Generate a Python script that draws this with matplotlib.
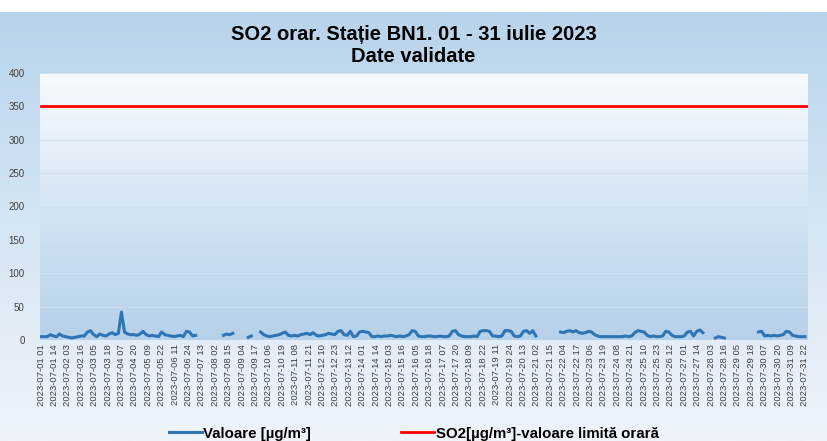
import numpy as np
import matplotlib
matplotlib.use('Agg')
import matplotlib.pyplot as plt
from matplotlib.colors import LinearSegmentedColormap

plt.rcParams['font.family'] = ['Liberation Sans', 'DejaVu Sans']

TITLE = 'SO2 orar. Stație BN1. 01 - 31 iulie 2023\nDate validate'
SERIES_LABEL = 'Valoare [µg/m³]'
LIMIT_LABEL = 'SO2[µg/m³]-valoare limită orară'
LIMIT = 350

# hourly categories: day 1..31, hour 01..24
DAYS = list(range(1, 32))
HOURS = list(range(1, 25))
CATEGORIES = [f'2023-07-{d:02d} {h:02d}' for d in DAYS for h in HOURS]
LABEL_STEP = 13

# values, every 3 hours (hours 01, 04, ... 22)
SAMPLE_HOURS = [1, 4, 7, 10, 13, 16, 19, 22]
nan = np.nan
SO2_BY_DAY = [
    [5, 5, 5, 8, 6, 5, 9, 6],
    [5, 4, 3, 4, 5, 6, 6, 12],
    [14, 8, 5, 9, 7, 6, 9, 11],
    [8, 10, 42, 12, 9, 8, 8, 7],
    [9, 13, 8, 6, 7, 6, 5, 12],
    [8, 7, 6, 5, 6, 7, 5, 13],
    [12, 6, 7, nan, nan, nan, nan, nan],
    [5, nan, nan, 7, 9, 8, 10, nan],
    [nan, nan, nan, 4, 6, nan, nan, 12],
    [8, 6, 5, 6, 7, 8, 10, 12],
    [7, 6, 7, 6, 8, 9, 10, 8],
    [11, 7, 6, 7, 8, 10, 9, 8],
    [13, 14, 8, 7, 13, 5, 6, 12],
    [13, 12, 11, 5, 5, 6, 5, 6],
    [6, 7, 6, 5, 6, 5, 6, 8],
    [14, 13, 6, 5, 5, 6, 6, 5],
    [5, 6, 5, 5, 6, 13, 14, 8],
    [6, 5, 5, 5, 6, 5, 13, 14],
    [14, 13, 6, 6, 5, 6, 14, 14],
    [13, 6, 5, 6, 13, 14, 10, 14],
    [6, nan, nan, nan, nan, nan, nan, nan],
    [12, 11, 13, 14, 12, 14, 11, 10],
    [11, 13, 12, 8, 6, 5, 5, 5],
    [5, 5, 5, 5, 5, 6, 5, 6],
    [11, 14, 13, 12, 7, 5, 6, 5],
    [5, 6, 13, 12, 7, 5, 5, 5],
    [6, 12, 13, 6, 13, 15, 11, nan],
    [nan, nan, 3, 5, 4, 3, nan, nan],
    [nan, nan, nan, nan, nan, nan, nan, nan],
    [12, 13, 6, 7, 6, 7, 6, 7],
    [8, 13, 12, 7, 6, 5, 5, 5],
]

LINE_BLUE = '#2e75b6'
LIMIT_RED = '#ff0000'
TICK_INK = '#404040'

fig = plt.figure(figsize=(8.27, 4.41), dpi=100)
fig.patch.set_facecolor('white')

# outer panel gradient (blue at top fading to near white)
bg = fig.add_axes([0, 0, 1, 1 - 12 / 441], zorder=-2)
outer = LinearSegmentedColormap.from_list('outer', ['#eef4fa', '#d6e6f4', '#b8d3eb'])
bg.imshow(np.linspace(0, 1, 256).reshape(-1, 1)[::-1], cmap=outer,
          aspect='auto', extent=[0, 1, 0, 1], origin='upper')
bg.axis('off')

ax = fig.add_axes([40 / 827, (441 - 340) / 441, 768 / 827, 267 / 441])
ax.patch.set_visible(False)
inner = LinearSegmentedColormap.from_list('inner', ['#b6d1ea', '#d5e5f4', '#f8fbfe'])
ax.imshow(np.linspace(0, 1, 256).reshape(-1, 1), cmap=inner, aspect='auto',
          extent=[0, 1, 0, 1], origin='lower', transform=ax.transAxes, zorder=0)

x = [CATEGORIES.index(f'2023-07-{d:02d} {h:02d}') for d in DAYS for h in SAMPLE_HOURS]
y = np.array(SO2_BY_DAY, dtype=float).ravel()

ax.plot(x, y, color=LINE_BLUE, linewidth=2.2, zorder=3, label=SERIES_LABEL,
        solid_joinstyle='round')
ax.plot([0, len(CATEGORIES) - 1], [LIMIT, LIMIT], color=LIMIT_RED, linewidth=2.0,
        zorder=3, label=LIMIT_LABEL)

ax.set_xlim(-1, len(CATEGORIES))
ax.set_ylim(0, 400)
ax.set_yticks(np.arange(0, 401, 50))
ax.yaxis.grid(True, color='#cfe0f0', linewidth=0.8, zorder=1)
ax.set_axisbelow(True)
ticks = list(range(0, len(CATEGORIES), LABEL_STEP))
ax.set_xticks(ticks)
ax.set_xticklabels([CATEGORIES[i] for i in ticks], rotation=90, fontsize=6.8,
                   color=TICK_INK)
ax.tick_params(axis='y', labelsize=7, colors=TICK_INK, length=0, pad=11)
ax.tick_params(axis='x', length=0, pad=3)
for s in ax.spines.values():
    s.set_visible(False)

fig.text(0.5, 1 - 45 / 441, TITLE, ha='center', va='center', fontsize=14.5,
         fontweight='bold', linespacing=1.2)

fig.legend(loc='lower center', bbox_to_anchor=(0.5, -0.03), ncol=2,
           frameon=False, columnspacing=6, handlelength=2.2, handletextpad=0.1,
           prop={'weight': 'bold', 'size': 10.8})

fig.savefig('out.png', dpi=100)
